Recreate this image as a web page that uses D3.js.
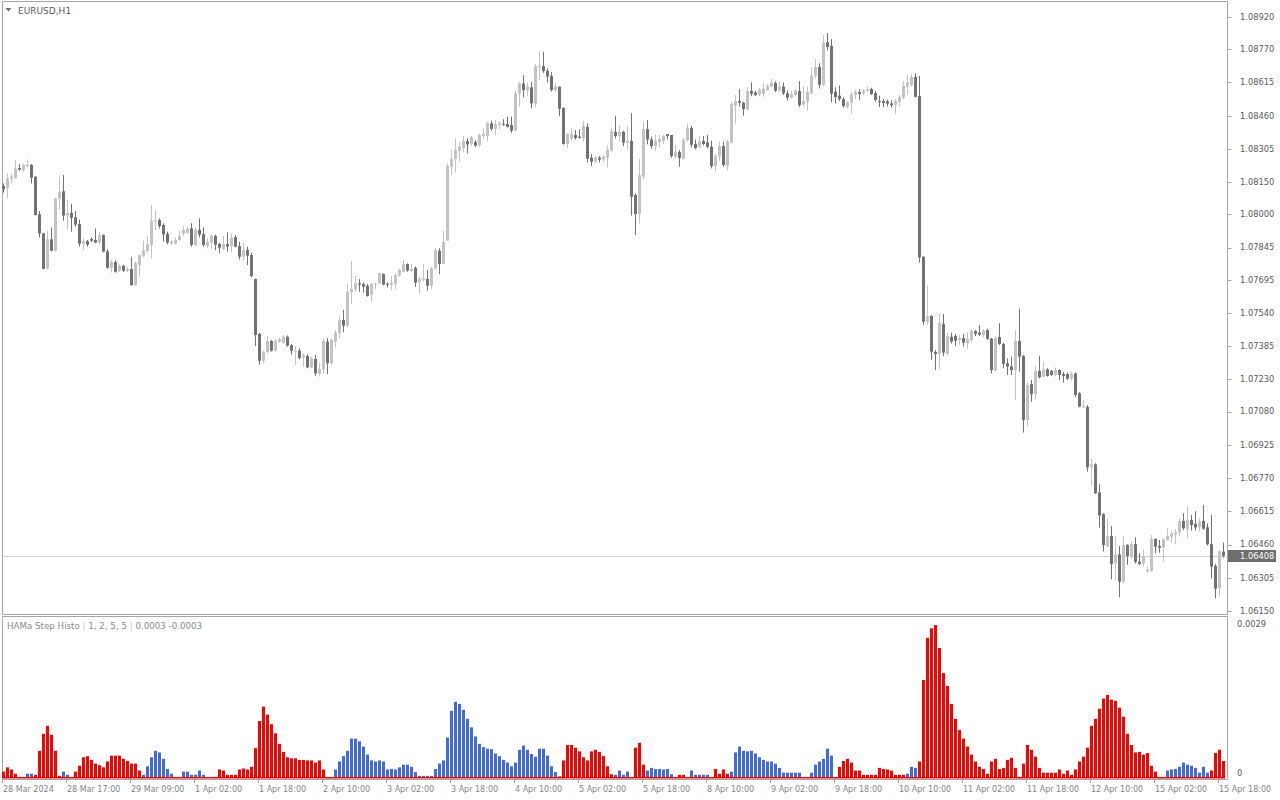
<!DOCTYPE html>
<html><head><meta charset="utf-8">
<script src="https://cdn.jsdelivr.net/npm/d3@7"></script>
<style>
html,body{margin:0;padding:0;background:#fff;}
svg{display:block;}
text{font-family:"DejaVu Sans",Verdana,sans-serif;font-size:9px;fill:#5a5a5a;}
</style></head><body>
<svg id="chart" width="1280" height="800"></svg>
<script>
const symbolTitle = "EURUSD,H1";
const indicatorName = "HAMa Step Histo";
const indicatorParams = "1, 2, 5, 5";
const indicatorValues = "0.0003 -0.0003";

const timeLabels = ["28 Mar 2024","28 Mar 17:00","29 Mar 09:00","1 Apr 02:00","1 Apr 18:00","2 Apr 10:00","3 Apr 02:00","3 Apr 18:00","4 Apr 10:00","5 Apr 02:00","5 Apr 18:00","8 Apr 10:00","9 Apr 02:00","9 Apr 18:00","10 Apr 10:00","11 Apr 02:00","11 Apr 18:00","12 Apr 10:00","15 Apr 02:00","15 Apr 18:00"];
const priceTicks = [1.08920,1.08770,1.08615,1.08460,1.08305,1.08150,1.08000,1.07845,1.07695,1.07540,1.07385,1.07230,1.07080,1.06925,1.06770,1.06615,1.06460,1.06305,1.06150];
const histTicks = [0, 0.0029];

const open = [
1.08132,1.08121,1.08166,1.08169,1.08216,1.08206,1.08227,1.08230,1.08175,1.08000,
1.07911,1.07746,1.07883,1.07830,1.08073,1.08107,1.07994,1.08006,1.07986,1.07955,
1.07863,1.07875,1.07885,1.07880,1.07868,1.07903,1.07827,1.07751,1.07777,1.07736,
1.07759,1.07737,1.07745,1.07670,1.07763,1.07805,1.07829,1.07857,1.07969,1.07973,
1.07950,1.07908,1.07863,1.07863,1.07880,1.07909,1.07914,1.07934,1.07857,1.07927,
1.07908,1.07853,1.07868,1.07899,1.07861,1.07838,1.07861,1.07852,1.07894,1.07852,
1.07802,1.07833,1.07810,1.07698,1.07442,1.07317,1.07358,1.07409,1.07364,1.07406,
1.07401,1.07429,1.07390,1.07361,1.07364,1.07333,1.07339,1.07286,1.07325,1.07255,
1.07277,1.07406,1.07305,1.07406,1.07445,1.07507,1.07481,1.07636,1.07650,1.07678,
1.07675,1.07667,1.07625,1.07672,1.07678,1.07721,1.07676,1.07672,1.07676,1.07714,
1.07732,1.07768,1.07735,1.07751,1.07684,1.07695,1.07698,1.07667,1.07748,1.07830,
1.07768,1.07877,1.08222,1.08258,1.08296,1.08309,1.08342,1.08328,1.08337,1.08321,
1.08365,1.08365,1.08424,1.08399,1.08418,1.08422,1.08421,1.08416,1.08390,1.08564,
1.08610,1.08576,1.08592,1.08517,1.08688,1.08691,1.08668,1.08645,1.08579,1.08595,
1.08496,1.08328,1.08353,1.08370,1.08362,1.08356,1.08407,1.08264,1.08245,1.08264,
1.08255,1.08264,1.08297,1.08384,1.08365,1.08384,1.08334,1.08342,1.08090,1.08001,
1.08175,1.08397,1.08349,1.08318,1.08337,1.08343,1.08374,1.08370,1.08269,1.08290,
1.08259,1.08346,1.08402,1.08328,1.08315,1.08342,1.08335,1.08315,1.08225,1.08269,
1.08318,1.08225,1.08334,1.08506,1.08528,1.08520,1.08489,1.08575,1.08568,1.08559,
1.08561,1.08579,1.08595,1.08612,1.08579,1.08595,1.08565,1.08544,1.08556,1.08575,
1.08513,1.08525,1.08565,1.08646,1.08687,1.08603,1.08802,1.08785,1.08572,1.08553,
1.08537,1.08502,1.08520,1.08556,1.08569,1.08565,1.08576,1.08584,1.08565,1.08528,
1.08528,1.08527,1.08517,1.08509,1.08525,1.08544,1.08595,1.08603,1.08640,1.08551,
1.07802,1.07499,1.07526,1.07358,1.07349,1.07488,1.07349,1.07429,1.07432,1.07414,
1.07423,1.07398,1.07414,1.07456,1.07448,1.07437,1.07460,1.07420,1.07271,1.07428,
1.07395,1.07305,1.07290,1.07274,1.07409,1.07339,1.07041,1.07209,1.07162,1.07269,
1.07243,1.07277,1.07269,1.07251,1.07274,1.07255,1.07255,1.07234,1.07258,1.07165,
1.07100,1.07101,1.06823,1.06834,1.06703,1.06602,1.06453,1.06500,1.06372,1.06414,
1.06287,1.06458,1.06407,1.06462,1.06380,1.06372,1.06334,1.06337,1.06486,1.06453,
1.06445,1.06481,1.06497,1.06506,1.06515,1.06570,1.06531,1.06574,1.06556,1.06540,
1.06570,1.06540,1.06462,1.06360,1.06257,1.06427];

const high = [
1.08144,1.08191,1.08188,1.08253,1.08234,1.08237,1.08256,1.08234,1.08178,1.08015,
1.07914,1.07922,1.07939,1.08077,1.08175,1.08183,1.08067,1.08048,1.08015,1.07976,
1.07888,1.07880,1.07892,1.07934,1.07917,1.07906,1.07837,1.07787,1.07787,1.07768,
1.07765,1.07753,1.07802,1.07777,1.07813,1.07877,1.07899,1.08043,1.08020,1.07981,
1.07958,1.07919,1.07880,1.07892,1.07923,1.07945,1.07942,1.07958,1.07939,1.07981,
1.07939,1.07888,1.07908,1.07905,1.07868,1.07899,1.07916,1.07911,1.07903,1.07872,
1.07868,1.07849,1.07821,1.07700,1.07448,1.07364,1.07432,1.07414,1.07417,1.07425,
1.07435,1.07435,1.07395,1.07386,1.07375,1.07352,1.07348,1.07336,1.07344,1.07308,
1.07422,1.07422,1.07422,1.07460,1.07526,1.07554,1.07675,1.07782,1.07712,1.07698,
1.07681,1.07675,1.07678,1.07681,1.07728,1.07725,1.07683,1.07712,1.07728,1.07746,
1.07787,1.07771,1.07768,1.07756,1.07709,1.07768,1.07740,1.07756,1.07844,1.07841,
1.07924,1.08237,1.08303,1.08354,1.08337,1.08365,1.08354,1.08365,1.08346,1.08377,
1.08401,1.08432,1.08436,1.08440,1.08432,1.08443,1.08455,1.08455,1.08579,1.08618,
1.08649,1.08614,1.08618,1.08701,1.08761,1.08757,1.08680,1.08663,1.08610,1.08595,
1.08499,1.08377,1.08402,1.08393,1.08396,1.08436,1.08424,1.08281,1.08272,1.08272,
1.08275,1.08323,1.08405,1.08458,1.08416,1.08390,1.08412,1.08471,1.08098,1.08258,
1.08430,1.08440,1.08362,1.08374,1.08370,1.08370,1.08374,1.08370,1.08323,1.08300,
1.08354,1.08424,1.08412,1.08349,1.08365,1.08365,1.08370,1.08343,1.08284,1.08339,
1.08339,1.08346,1.08525,1.08556,1.08584,1.08525,1.08592,1.08615,1.08576,1.08589,
1.08610,1.08607,1.08631,1.08621,1.08618,1.08615,1.08578,1.08575,1.08584,1.08621,
1.08598,1.08595,1.08684,1.08724,1.08704,1.08836,1.08845,1.08817,1.08592,1.08600,
1.08547,1.08528,1.08572,1.08579,1.08584,1.08584,1.08595,1.08590,1.08575,1.08553,
1.08537,1.08534,1.08531,1.08537,1.08556,1.08621,1.08649,1.08656,1.08657,1.08645,
1.07805,1.07666,1.07530,1.07367,1.07535,1.07535,1.07448,1.07448,1.07442,1.07437,
1.07442,1.07448,1.07467,1.07460,1.07484,1.07464,1.07467,1.07423,1.07432,1.07492,
1.07401,1.07328,1.07336,1.07460,1.07560,1.07344,1.07215,1.07227,1.07293,1.07339,
1.07313,1.07282,1.07274,1.07286,1.07277,1.07265,1.07262,1.07265,1.07262,1.07172,
1.07134,1.07111,1.06862,1.06839,1.06741,1.06606,1.06582,1.06546,1.06497,1.06453,
1.06500,1.06462,1.06473,1.06494,1.06419,1.06435,1.06357,1.06504,1.06489,1.06481,
1.06489,1.06536,1.06528,1.06532,1.06582,1.06606,1.06640,1.06598,1.06615,1.06582,
1.06644,1.06559,1.06598,1.06369,1.06435,1.06469];

const low = [
1.08101,1.08074,1.08144,1.08166,1.08203,1.08199,1.08214,1.08144,1.07994,1.07892,
1.07743,1.07743,1.07827,1.07827,1.08020,1.07970,1.07930,1.07919,1.07942,1.07849,
1.07833,1.07849,1.07871,1.07865,1.07861,1.07822,1.07746,1.07728,1.07728,1.07731,
1.07731,1.07731,1.07667,1.07667,1.07712,1.07799,1.07818,1.07795,1.07927,1.07934,
1.07872,1.07860,1.07858,1.07860,1.07877,1.07899,1.07908,1.07849,1.07849,1.07892,
1.07849,1.07841,1.07841,1.07833,1.07818,1.07833,1.07826,1.07822,1.07846,1.07790,
1.07784,1.07763,1.07706,1.07386,1.07299,1.07305,1.07352,1.07359,1.07359,1.07401,
1.07395,1.07383,1.07345,1.07297,1.07324,1.07289,1.07282,1.07282,1.07246,1.07243,
1.07258,1.07255,1.07297,1.07380,1.07420,1.07450,1.07473,1.07582,1.07638,1.07639,
1.07634,1.07616,1.07593,1.07650,1.07675,1.07669,1.07659,1.07647,1.07650,1.07709,
1.07728,1.07732,1.07728,1.07662,1.07631,1.07686,1.07644,1.07652,1.07740,1.07721,
1.07768,1.07877,1.08183,1.08194,1.08245,1.08289,1.08284,1.08318,1.08315,1.08315,
1.08351,1.08339,1.08390,1.08370,1.08396,1.08412,1.08405,1.08380,1.08385,1.08502,
1.08545,1.08551,1.08494,1.08499,1.08626,1.08660,1.08614,1.08572,1.08572,1.08458,
1.08325,1.08307,1.08343,1.08349,1.08353,1.08339,1.08241,1.08225,1.08238,1.08241,
1.08245,1.08217,1.08290,1.08354,1.08339,1.08318,1.08300,1.07994,1.07903,1.07958,
1.08163,1.08326,1.08306,1.08297,1.08312,1.08328,1.08349,1.08264,1.08261,1.08222,
1.08256,1.08339,1.08312,1.08303,1.08309,1.08321,1.08309,1.08214,1.08199,1.08250,
1.08222,1.08206,1.08331,1.08424,1.08502,1.08460,1.08483,1.08551,1.08551,1.08551,
1.08548,1.08576,1.08592,1.08570,1.08572,1.08556,1.08531,1.08537,1.08550,1.08500,
1.08502,1.08483,1.08559,1.08634,1.08587,1.08597,1.08764,1.08522,1.08516,1.08528,
1.08497,1.08494,1.08469,1.08537,1.08534,1.08556,1.08569,1.08556,1.08525,1.08500,
1.08500,1.08503,1.08497,1.08469,1.08502,1.08537,1.08556,1.08595,1.08544,1.07774,
1.07484,1.07484,1.07321,1.07274,1.07277,1.07339,1.07344,1.07398,1.07386,1.07391,
1.07383,1.07373,1.07401,1.07432,1.07432,1.07426,1.07414,1.07258,1.07268,1.07391,
1.07282,1.07251,1.07251,1.07134,1.07266,1.06982,1.07010,1.07126,1.07137,1.07235,
1.07238,1.07243,1.07246,1.07243,1.07227,1.07215,1.07227,1.07224,1.07147,1.07100,
1.07095,1.06800,1.06733,1.06696,1.06539,1.06427,1.06447,1.06298,1.06295,1.06214,
1.06282,1.06366,1.06391,1.06372,1.06363,1.06357,1.06326,1.06332,1.06419,1.06422,
1.06380,1.06477,1.06469,1.06461,1.06497,1.06528,1.06489,1.06525,1.06525,1.06520,
1.06528,1.06456,1.06302,1.06209,1.06220,1.06399];

const close = [
1.08116,1.08168,1.08175,1.08214,1.08208,1.08230,1.08231,1.08171,1.07997,1.07911,
1.07746,1.07883,1.07830,1.08074,1.08104,1.07994,1.08006,1.07984,1.07952,1.07863,
1.07875,1.07858,1.07877,1.07868,1.07903,1.07826,1.07751,1.07777,1.07732,1.07759,
1.07737,1.07746,1.07670,1.07774,1.07809,1.07833,1.07860,1.07970,1.07973,1.07945,
1.07906,1.07868,1.07872,1.07880,1.07899,1.07927,1.07933,1.07857,1.07927,1.07905,
1.07857,1.07872,1.07899,1.07858,1.07844,1.07861,1.07849,1.07891,1.07849,1.07802,
1.07833,1.07807,1.07712,1.07437,1.07317,1.07358,1.07409,1.07364,1.07411,1.07418,
1.07429,1.07387,1.07364,1.07364,1.07330,1.07344,1.07286,1.07327,1.07258,1.07279,
1.07409,1.07305,1.07414,1.07448,1.07507,1.07481,1.07638,1.07652,1.07678,1.07672,
1.07662,1.07619,1.07675,1.07676,1.07725,1.07672,1.07672,1.07680,1.07717,1.07740,
1.07768,1.07737,1.07745,1.07681,1.07698,1.07703,1.07667,1.07748,1.07833,1.07768,
1.07871,1.08225,1.08258,1.08300,1.08315,1.08342,1.08326,1.08359,1.08320,1.08370,
1.08376,1.08427,1.08399,1.08421,1.08426,1.08418,1.08408,1.08390,1.08564,1.08610,
1.08579,1.08595,1.08517,1.08691,1.08693,1.08668,1.08642,1.08579,1.08595,1.08492,
1.08328,1.08374,1.08374,1.08356,1.08356,1.08412,1.08259,1.08245,1.08264,1.08255,
1.08269,1.08300,1.08388,1.08365,1.08384,1.08334,1.08342,1.08082,1.08001,1.08183,
1.08397,1.08349,1.08318,1.08342,1.08351,1.08365,1.08365,1.08272,1.08289,1.08262,
1.08346,1.08401,1.08325,1.08309,1.08340,1.08328,1.08315,1.08225,1.08272,1.08318,
1.08230,1.08339,1.08514,1.08527,1.08520,1.08491,1.08575,1.08562,1.08556,1.08582,
1.08586,1.08598,1.08615,1.08576,1.08595,1.08564,1.08544,1.08559,1.08576,1.08509,
1.08528,1.08570,1.08646,1.08687,1.08604,1.08800,1.08780,1.08562,1.08547,1.08537,
1.08505,1.08522,1.08559,1.08572,1.08561,1.08576,1.08583,1.08561,1.08533,1.08523,
1.08519,1.08516,1.08509,1.08528,1.08548,1.08598,1.08614,1.08640,1.08548,1.07799,
1.07499,1.07526,1.07359,1.07349,1.07495,1.07355,1.07432,1.07406,1.07411,1.07423,
1.07401,1.07420,1.07457,1.07442,1.07439,1.07457,1.07420,1.07274,1.07423,1.07395,
1.07302,1.07290,1.07274,1.07409,1.07336,1.07041,1.07204,1.07162,1.07269,1.07240,
1.07277,1.07246,1.07251,1.07274,1.07251,1.07246,1.07234,1.07258,1.07157,1.07103,
1.07106,1.06820,1.06834,1.06699,1.06595,1.06458,1.06500,1.06369,1.06414,1.06287,
1.06458,1.06407,1.06462,1.06379,1.06369,1.06403,1.06343,1.06486,1.06450,1.06445,
1.06484,1.06500,1.06512,1.06517,1.06570,1.06536,1.06574,1.06551,1.06540,1.06567,
1.06534,1.06461,1.06357,1.06254,1.06427,1.06408];

const histValues = [
.00012,.00020,.00016,.00008,.00001,.00001,.00008,.00008,.00006,.00051,
.00083,.00098,.00081,.00051,.00004,.00012,.00006,.00002,.00012,.00023,
.00039,.00041,.00034,.00027,.00024,.00020,.00031,.00042,.00042,.00042,
.00036,.00032,.00027,.00027,.00014,.00006,.00022,.00039,.00051,.00048,
.00036,.00017,.00008,.00002,.00002,.00012,.00012,.00006,.00006,.00014,
.00006,.00002,.00002,.00002,.00016,.00014,.00006,.00006,.00006,.00016,
.00018,.00016,.00021,.00056,.00107,.00134,.00119,.00101,.00084,.00064,
.00049,.00039,.00037,.00037,.00034,.00034,.00033,.00033,.00029,.00033,
.00016,.00001,.00001,.00016,.00031,.00041,.00051,.00074,.00074,.00069,
.00059,.00044,.00033,.00031,.00033,.00031,.00016,.00017,.00016,.00020,
.00025,.00025,.00021,.00011,.00004,.00004,.00004,.00004,.00017,.00027,
.00033,.00076,.00126,.00143,.00139,.00128,.00111,.00095,.00078,.00064,
.00058,.00055,.00054,.00046,.00041,.00034,.00029,.00022,.00029,.00053,
.00061,.00053,.00045,.00040,.00055,.00055,.00042,.00022,.00011,.00003,
.00033,.00062,.00062,.00057,.00050,.00039,.00033,.00050,.00053,.00049,
.00041,.00022,.00007,.00006,.00014,.00006,.00012,.00002,.00057,.00066,
.00025,.00014,.00019,.00017,.00017,.00016,.00017,.00007,.00001,.00006,
.00006,.00002,.00014,.00006,.00006,.00006,.00006,.00002,.00017,.00008,
.00016,.00008,.00012,.00048,.00059,.00051,.00050,.00051,.00046,.00039,
.00034,.00031,.00031,.00027,.00019,.00010,.00010,.00010,.00010,.00010,
.00002,.00002,.00010,.00025,.00031,.00036,.00055,.00042,.00001,.00021,
.00032,.00036,.00029,.00014,.00014,.00006,.00006,.00006,.00006,.00019,
.00017,.00016,.00014,.00006,.00006,.00006,.00008,.00021,.00019,.00031,
.00184,.00263,.00281,.00287,.00244,.00197,.00173,.00139,.00111,.00090,
.00074,.00059,.00044,.00031,.00021,.00017,.00008,.00031,.00036,.00017,
.00019,.00034,.00038,.00019,.00002,.00027,.00062,.00053,.00040,.00019,
.00010,.00010,.00010,.00010,.00016,.00008,.00014,.00006,.00016,.00031,
.00040,.00057,.00098,.00111,.00130,.00149,.00156,.00147,.00145,.00132,
.00115,.00083,.00062,.00048,.00049,.00044,.00047,.00023,.00012,.00001,
.00001,.00014,.00016,.00017,.00021,.00029,.00025,.00023,.00019,.00010,
.00021,.00010,.00014,.00047,.00053,.00032];

// R = red (down) bar, B = blue (up) bar
const histState = [
"RRRRBBBBRR","RRRRRBBRRR","RRRRRRRRRR","RRRRRBBBBB","BBBBBBBBBB",
"BRRRRRRRRR","RRRRRRRRRR","RRRRRRRRRR","RBBBBBBBBB","BBBBBBBBBB",
"BBBBBBBBBB","BBBBBBBBBB","BBBBBBBBBB","BBBBBBBBBR","RRRRRRRRRR",
"RRRBBBBRRR","RBBBBBBBBR","RBBBBBBRRR","RRBBBBBBBB","BBBBBBBBBB",
"BBBBBBBBBR","RRRRRRRRRR","RRRRRRBBBR","RRRRRRRRRR","RRRRRRRRRR",
"RRRRRRRRRR","RRRRRRRRRR","RRRRRRRRRR","RRRRRRRRRB","BBBBBBBBBB",
"BBRRRR"].join("");

const bullColor = "#c3c3c3", bearColor = "#727272";
const redColor = "#ff0000", blueColor = "#4169e1";
const frameColor = "#a6a6a6";

const n = close.length;
const idx = d3.range(n);
const svg = d3.select("#chart");

const x = d3.scaleLinear().domain([0, n - 1]).range([3.5, 3.5 + 4 * (n - 1)]);
const y = d3.scaleLinear().domain([1.06150, 1.08920]).range([611, 17]);
const hy = d3.scaleLinear().domain([0, 0.0029]).range([778, 623.5]);

const plotRight = 1227.5;

// frames
svg.append("path").attr("d", `M2.5,614.5 V1.5 H${plotRight} V614.5 Z`).attr("fill", "none").attr("stroke", frameColor);
svg.append("path").attr("d", `M2.5,779.5 V616.5 H${plotRight} V779.5 Z`).attr("fill", "none").attr("stroke", frameColor);

// title
svg.append("path").attr("d", "M5.5,8 L11.5,8 L8.5,11.5 Z").attr("fill", "#6d6d6d");
svg.append("text").attr("x", 18).attr("y", 13.5).style("font-size", "9px").text(symbolTitle);

// current price line
const last = close[n - 1];
const lyPix = Math.round(y(last)) + 0.5;
svg.append("line").attr("x1", 3).attr("x2", plotRight).attr("y1", lyPix).attr("y2", lyPix)
  .attr("stroke", "#cfcfcf").attr("stroke-width", 1);

// candles
const cg = svg.append("g");
cg.selectAll("rect.wick").data(idx).join("rect").attr("class", "wick")
  .attr("x", i => x(i) - 0.5).attr("width", 1)
  .attr("y", i => y(high[i])).attr("height", i => Math.max(1, y(low[i]) - y(high[i])))
  .attr("fill", i => close[i] >= open[i] ? bullColor : bearColor);
cg.selectAll("rect.body").data(idx).join("rect").attr("class", "body")
  .attr("x", i => x(i) - 1.5).attr("width", 3)
  .attr("y", i => y(Math.max(open[i], close[i])))
  .attr("height", i => Math.max(1, Math.abs(y(open[i]) - y(close[i]))))
  .attr("fill", i => close[i] >= open[i] ? bullColor : bearColor);

// price axis
const pa = svg.append("g");
pa.selectAll("line").data(priceTicks).join("line")
  .attr("x1", plotRight).attr("x2", plotRight + 4)
  .attr("y1", d => Math.round(y(d)) + 0.5).attr("y2", d => Math.round(y(d)) + 0.5)
  .attr("stroke", frameColor);
pa.selectAll("text").data(priceTicks).join("text")
  .attr("x", 1240).attr("y", d => y(d)).attr("dy", "0.35em").style("font-size", "8.3px")
  .text(d => d.toFixed(5));

// current price tag
const ly = y(last);
svg.append("rect").attr("x", 1228).attr("y", Math.round(ly) - 6).attr("width", 48).attr("height", 12).attr("fill", "#6e6e6e");
svg.append("text").attr("x", 1240).attr("y", ly).attr("dy", "0.35em").style("font-size", "8.3px").style("fill", "#ffffff").text(last.toFixed(5));

// histogram
const hg = svg.append("g");
hg.selectAll("rect").data(idx).join("rect")
  .attr("x", i => x(i) - 1.5).attr("width", 3)
  .attr("y", i => hy(histValues[i])).attr("height", i => Math.max(0.6, hy(0) - hy(histValues[i])))
  .attr("fill", i => histState[i] === "R" ? redColor : blueColor);
svg.append("rect").attr("x", x(0) - 1.5).attr("y", hy(0) - 1).attr("width", x(n - 1) - x(0) + 3).attr("height", 1.5).attr("fill", redColor);

// histogram scale labels
svg.append("text").attr("x", 1237).attr("y", 624).attr("dy", "0.35em").style("font-size", "8.3px").text(histTicks[1].toFixed(4));
svg.append("text").attr("x", 1237).attr("y", 773).attr("dy", "0.35em").style("font-size", "8.3px").text(String(histTicks[0]));

// indicator title
const it = svg.append("text").attr("x", 7).attr("y", 628.5).style("fill", "#8a8a8a").style("font-size", "8.7px");
it.append("tspan").text(indicatorName + " ");
it.append("tspan").style("fill", "#b9c3d6").text("|");
it.append("tspan").text(" " + indicatorParams + " ");
it.append("tspan").style("fill", "#b9c3d6").text("|");
it.append("tspan").text("  " + indicatorValues);

// time axis
const tickIdx = timeLabels.map((d, k) => k * 16);
const ta = svg.append("g");
ta.selectAll("line").data(tickIdx).join("line")
  .attr("x1", i => Math.floor(x(i)) - 0.5).attr("x2", i => Math.floor(x(i)) - 0.5)
  .attr("y1", 780).attr("y2", 783).attr("stroke", frameColor);
ta.selectAll("text").data(tickIdx).join("text")
  .attr("x", i => Math.floor(x(i))).attr("y", 791.5).style("font-size", "8px").style("fill", "#7d848c")
  .text((i, k) => timeLabels[k]);
</script>
</body></html>
